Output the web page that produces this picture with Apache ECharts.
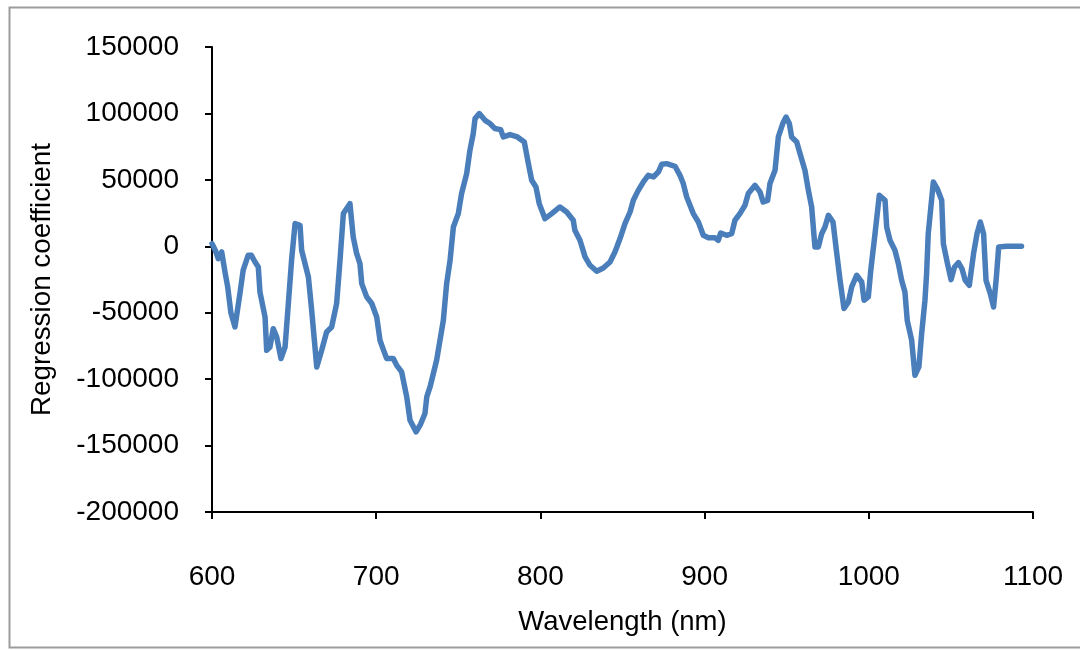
<!DOCTYPE html>
<html lang="en">

<head>
    <meta charset="UTF-8">
    <title>Regression coefficient</title>
    <style>
        html, body { margin: 0; padding: 0; background: #fff; }
    </style>
</head>

<body>
    <div id="main" style="width: 1080px; height: 650px;"></div>

    <script src="https://cdn.jsdelivr.net/npm/echarts@6/dist/echarts.min.js"></script>
    <script>
        // wavelength (nm)
        var wavelengths = [
            600, 602, 603.8, 605.9, 608, 609.5, 611.5, 614, 617, 619, 622, 624, 626.2, 628.2, 629.2,
            632.3, 633.3, 635.3, 637.3, 639.4, 642, 644.5, 646.5, 648.5, 650.6, 653.6, 654.6, 658.7,
            660.7, 663.8, 666.8, 669.8, 672.9, 675.9, 678, 680, 684, 686, 688, 690.1, 691.2, 694.2,
            697.3, 700.3, 702.3, 704.4, 706.4, 710.4, 712.5, 715.5, 718.6, 720.6, 724.3, 727, 729.7,
            730.8, 732.8, 736.8, 740.9, 742.9, 745, 747, 750, 752, 755.1, 757.1, 759.1, 760.2, 762.8,
            766.3, 769.3, 772.3, 775.8, 777.4, 781.5, 786, 790.2, 792.7, 794.7, 797.3, 799.3, 802.8,
            806.9, 811.9, 816, 820, 821, 824.1, 827.2, 830.2, 834.3, 838.3, 842.4, 845.4, 848.5,
            851.5, 854.6, 856.6, 859.6, 862.7, 865.7, 868.8, 871.8, 873.9, 876.9, 882, 885, 887,
            889.1, 891.1, 893.1, 896.2, 899.2, 902.3, 906.3, 908.3, 909.8, 913.4, 916.5, 918.5,
            921.5, 924.6, 926.6, 930.7, 933.7, 935.7, 938.4, 939.8, 942.9, 944.9, 947.6, 949.6,
            951.6, 953, 956.1, 958.1, 961.1, 963.2, 965.2, 967.2, 969.3, 971.3, 973.3, 975.4, 978.2,
            980.5, 982.5, 984.9, 987.6, 989.6, 992.6, 995.7, 997.1, 999.7, 1001.2, 1003.8, 1006.4,
            1009.9, 1010.9, 1012.9, 1015.9, 1018, 1020, 1022, 1023.4, 1026.1, 1028.1, 1030.5, 1032.2,
            1034.2, 1035.2, 1036.2, 1039.3, 1041.7, 1044.4, 1045.4, 1047.9, 1050.1, 1052.2, 1054.6,
            1056.7, 1058.7, 1061.2, 1063.8, 1065.9, 1067.9, 1069.9, 1071.4, 1074, 1076, 1077.7,
            1079.1, 1084, 1093
        ];

        // regression coefficient at each wavelength
        var coefficients = [
            2000, -3000, -9300, -4300, -20000, -30000, -50000, -60700, -35600, -18000, -6800, -6800, -11800, -15600, -34400,
            -53200, -78300, -75800, -62000, -68300, -84500, -75800, -43100, -10000, 17100, 15800, -3000, -23100,
            -48200, -90800, -78300, -64500, -60700, -43100, -10000, 24600, 32100, 7000, -5000, -13000, -28100, -38100,
            -43100, -53200, -70700, -78000, -84500, -84500, -89600, -94600, -113400, -131000, -139700, -134000, -125900,
            -113400, -105900, -85800, -55700, -28100, -10500, 14500, 24600, 39700, 54700, 72300, 84800, 96100, 99900,
            94800, 92400, 88600, 87800, 82300, 84100, 82300, 78500, 62200, 49700, 44600, 32100, 20800,
            24600, 29600, 25800, 19600, 12000, 4500, -8000, -14300, -18800, -16300, -11800, -4300, 5800,
            17100, 25800, 34600, 42100, 48400, 53400, 52200, 55900, 61700, 62200, 60200, 53400, 47200,
            37100, 30900, 24600, 18300, 8300, 6500, 6500, 4500, 10000, 8300, 9500, 19600,
            24600, 30900, 39700, 45900, 40900, 33300, 34600, 47200, 57200, 82300, 92400, 97300,
            92400, 82300, 78500, 69800, 57200, 42100, 29600, -500, -500, 9500, 14500, 23300, 18300,
            -5500, -25600, -46900, -41900, -30600, -21800, -26900, -40600, -38100, -18100, 9500, 38400,
            34600, 14500, 4500, -3000, -13000, -25600, -34400, -55700, -70700, -97100, -90800, -65700,
            -40600, -20600, 9500, 48400, 43300, 34600, 2000, -13000, -25100, -15600, -12300,
            -16800, -25600, -29400, -5500, 9500, 18300, 9500, -25600, -35600, -45700, -23100,
            -500, 0, 0
        ];

        var xTicks = { min: 600, max: 1100, step: 100 };
        var yTicks = { min: -200000, max: 150000, step: 50000 };

        window.onload = function () {
            var myChart = echarts.init(document.getElementById('main'));

            var points = wavelengths.map(function (w, i) {
                return [w, coefficients[i]];
            });

            var font = '"Liberation Sans", Arial, sans-serif';

            var option = {
                backgroundColor: '#ffffff',
                animation: false,
                grid: {
                    left: 212,
                    right: 47,
                    top: 47,
                    bottom: 138
                },
                // 灰色外框
                graphic: [{
                    type: 'rect',
                    shape: { x: 9.5, y: 7.5, width: 1090, height: 640 },
                    style: { fill: 'none', stroke: '#9c9c9c', lineWidth: 2 },
                    silent: true
                }],
                xAxis: {
                    type: 'value',
                    min: xTicks.min,
                    max: xTicks.max,
                    interval: xTicks.step,
                    name: 'Wavelength (nm)',
                    nameLocation: 'middle',
                    nameGap: 96,
                    nameTextStyle: { color: '#000', fontSize: 27.5, fontFamily: font },
                    axisLine: { show: true, onZero: false, lineStyle: { color: '#000', width: 2 } },
                    axisTick: { show: true, length: 7, inside: false, lineStyle: { color: '#000', width: 2 } },
                    axisLabel: {
                        color: '#000', fontSize: 28, fontFamily: font, margin: 51,
                        formatter: function (v) { return String(v); }
                    },
                    splitLine: { show: false }
                },
                yAxis: {
                    type: 'value',
                    min: yTicks.min,
                    max: yTicks.max,
                    interval: yTicks.step,
                    name: 'Regression coefficient',
                    nameLocation: 'middle',
                    nameRotate: 90,
                    nameGap: 156,
                    nameTextStyle: { color: '#000', fontSize: 27.8, fontFamily: font },
                    axisLine: { show: true, lineStyle: { color: '#000', width: 2 } },
                    axisTick: { show: true, length: 7, inside: false, lineStyle: { color: '#000', width: 2 } },
                    axisLabel: {
                        color: '#000', fontSize: 28, fontFamily: font, margin: 33,
                        formatter: function (v) { return String(v); }
                    },
                    splitLine: { show: false }
                },
                series: [{
                    name: 'coefficient',
                    type: 'line',
                    data: points,
                    showSymbol: false,
                    smooth: false,
                    lineStyle: { color: '#4a7ebb', width: 5.5, cap: 'round', join: 'round' },
                    itemStyle: { color: '#4a7ebb' }
                }]
            };
            myChart.setOption(option);
        }
    </script>
</body>

</html>
